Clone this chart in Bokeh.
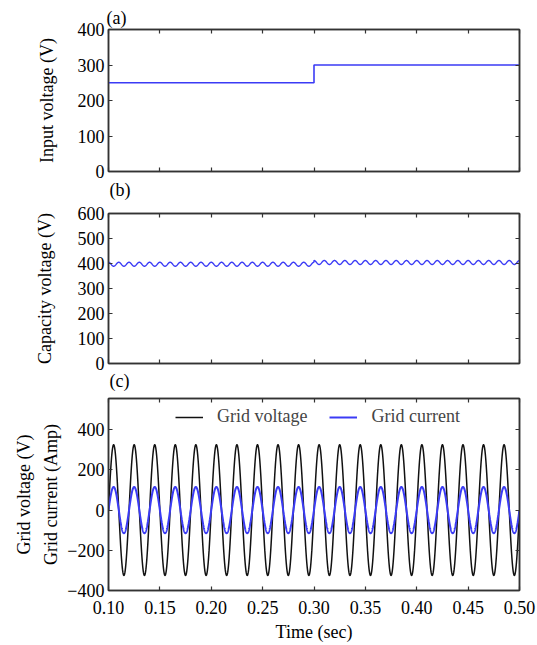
import numpy as np
from bokeh.plotting import figure
from bokeh.layouts import column
from bokeh.models import (LinearAxis, FixedTicker, PrintfTickFormatter,
                          CustomJSTickFormatter, Legend, LegendItem, Range1d, Title)
from bokeh.embed import file_html
from bokeh.resources import INLINE

# ---------------- data ----------------
time_start, time_end = 0.10, 0.50
x_ticks = [0.10, 0.15, 0.20, 0.25, 0.30, 0.35, 0.40, 0.45, 0.50]

# (a) input voltage: step from 250 V to 300 V at t = 0.3 s
input_time = [0.10, 0.30, 0.30, 0.50]
input_voltage = [250, 250, 300, 300]
a_ticks = [0, 100, 200, 300, 400]

# (b) capacitor voltage: ~400 V with 100 Hz ripple
cap_mean_before = 397      # V, t < 0.3 s
cap_mean_after = 404       # V, t >= 0.3 s
cap_ripple = 8             # V amplitude
cap_ripple_freq = 100      # Hz
b_ticks = [0, 100, 200, 300, 400, 500, 600]

# (c) grid voltage and current, 50 Hz, in phase
grid_freq = 50             # Hz
grid_voltage_peak = 325    # V
grid_current_peak = 115    # A (scaled)
c_ticks = [-400, -200, 0, 200, 400]

FONT = "Liberation Serif"
FS = "18px"
FRAME = "#333333"
BLUE = "#3b3bf5"

t = np.linspace(time_start, time_end, 4001)
cap_v = np.where(t < 0.3, cap_mean_before, cap_mean_after) + \
    cap_ripple * np.cos(2 * np.pi * cap_ripple_freq * (t - time_start))
grid_v = grid_voltage_peak * np.sin(2 * np.pi * grid_freq * (t - time_start))
grid_i = grid_current_peak * np.sin(2 * np.pi * grid_freq * (t - time_start))

BLANK = CustomJSTickFormatter(code="return ''")


def tag_title(text, offset, standoff):
    return Title(text=text, align="left", offset=offset, standoff=standoff,
                 text_font=FONT, text_font_size=FS, text_font_style="normal",
                 text_color="black")


def make_fig(height, yr, yticks, left, top, bottom, show_x):
    p = figure(width=537, height=height, x_range=Range1d(time_start, time_end),
               y_range=Range1d(*yr), output_backend="svg", toolbar_location=None,
               min_border_left=left, min_border_right=18, min_border_top=top,
               min_border_bottom=bottom)
    p.grid.visible = False
    p.outline_line_color = FRAME
    p.outline_line_width = 1.5
    p.background_fill_color = "white"
    xa = p.below[0]
    ya = p.left[0]
    for ax in [xa, ya]:
        ax.axis_line_color = FRAME
        ax.axis_line_width = 1.5
        ax.major_tick_in = 4
        ax.major_tick_out = 0
        ax.major_tick_line_color = FRAME
        ax.major_tick_line_width = 1.2
        ax.minor_tick_line_color = None
        ax.major_label_text_font = FONT
        ax.major_label_text_font_size = FS
        ax.major_label_text_color = "black"
        ax.axis_label_text_font = FONT
        ax.axis_label_text_font_size = FS
        ax.axis_label_text_font_style = "normal"
        ax.axis_label_text_color = "black"
    xa.ticker = FixedTicker(ticks=x_ticks)
    xa.formatter = PrintfTickFormatter(format="%.2f")
    xa.major_label_standoff = 10
    ya.ticker = FixedTicker(ticks=yticks)
    ya.major_label_standoff = 4
    if not show_x:
        xa.formatter = BLANK
        xa.major_label_text_font_size = "1px"
        xa.major_label_standoff = 0
        xa.axis_label_standoff = 0
    # mirrored ticks on top and right
    for loc, tk in [("above", x_ticks), ("right", yticks)]:
        ax = LinearAxis(ticker=FixedTicker(ticks=tk), major_tick_in=4, major_tick_out=0,
                        major_tick_line_color=FRAME, major_tick_line_width=1.2,
                        minor_tick_line_color=None, axis_line_color=FRAME,
                        axis_line_width=1.5, formatter=BLANK,
                        major_label_text_font_size="1px", major_label_standoff=0,
                        axis_label_standoff=0)
        p.add_layout(ax, loc)
    return p, xa, ya


# ---- (a)
p1, x1, y1 = make_fig(205, (0, 400), a_ticks, 104, 29, 34, False)
p1.line(input_time, input_voltage, line_color=BLUE, line_width=1.6)
y1.axis_label = "Input voltage (V)"
y1.axis_label_standoff = 18
p1.title = tag_title("(a)", -2, 4)
p1.add_layout(tag_title("(b)", 1, 12), "below")

# ---- (b)
p2, x2, y2 = make_fig(190, (0, 600), b_ticks, 104, 8, 32, False)
p2.line(t, cap_v, line_color=BLUE, line_width=1.4)
y2.axis_label = "Capacity voltage (V)"
y2.axis_label_standoff = 20
p2.title = None
p2.add_layout(tag_title("(c)", 1, 10), "below")

# ---- (c)
p3, x3, y3 = make_fig(250, (-400, 555), c_ticks, 108, 3, 55, True)
p3.title = None
rv = p3.line(t, grid_v, line_color="#111111", line_width=1.5)
ri = p3.line(t, grid_i, line_color=BLUE, line_width=2)
y3.axis_label = "Grid current (Amp)"
y3.axis_label_standoff = 3
x3.axis_label = "Time (sec)"
x3.axis_label_standoff = 5
outer = LinearAxis(axis_label="Grid voltage (V)", axis_label_text_font=FONT,
                   axis_label_text_font_size=FS, axis_label_text_font_style="normal",
                   axis_label_text_color="black", axis_label_standoff=5,
                   major_tick_line_color=None, minor_tick_line_color=None,
                   axis_line_color=None, formatter=BLANK,
                   major_label_text_font_size="1px",
                   major_label_standoff=0, ticker=FixedTicker(ticks=[]))
p3.add_layout(outer, "left")
legend = Legend(items=[LegendItem(label="Grid voltage", renderers=[rv]),
                       LegendItem(label="Grid current", renderers=[ri])],
                orientation="horizontal", location=(67, 163),
                border_line_color=None, background_fill_alpha=0,
                label_text_font=FONT, label_text_font_size=FS,
                glyph_width=28, spacing=22, padding=0, margin=0,
                label_standoff=14)
p3.add_layout(legend)

layout = column(p1, p2, p3, spacing=0)
open("out.html", "w").write(file_html(layout, INLINE))
